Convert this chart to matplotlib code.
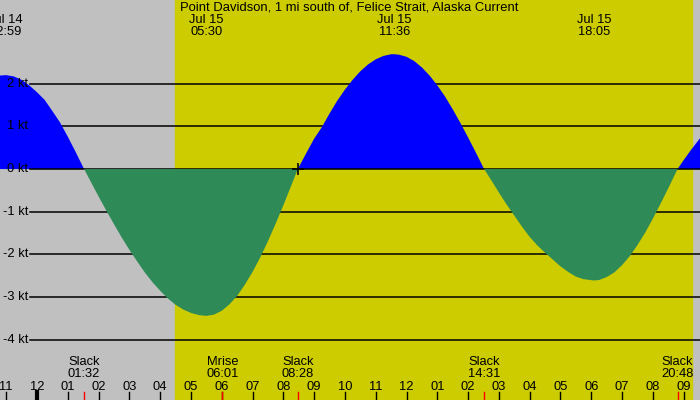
import matplotlib
matplotlib.use('Agg')
import matplotlib.pyplot as plt
import numpy as np

plt.rcParams['font.family'] = ['Liberation Sans', 'DejaVu Sans']

# hours since midnight Jul 15, current speed in knots
hours = [-1.20, -1.00, -0.75, -0.50, -0.25, 0.00, 0.25, 0.50, 0.75, 1.00, 1.25, 1.53,
         1.75, 2.00, 2.25, 2.50, 2.75, 3.00, 3.25, 3.50, 3.75, 4.00, 4.25, 4.50, 4.75, 5.00, 5.25, 5.50,
         5.75, 6.00, 6.25, 6.50, 6.75, 7.00, 7.25, 7.50, 7.75, 8.00, 8.25, 8.47,
         8.75, 9.00, 9.25, 9.50, 9.75, 10.00, 10.25, 10.50, 10.75, 11.00, 11.25, 11.50, 11.60,
         11.75, 12.00, 12.25, 12.50, 12.75, 13.00, 13.25, 13.50, 13.75, 14.00, 14.25, 14.52,
         14.75, 15.00, 15.25, 15.50, 15.75, 16.00, 16.25, 16.50, 16.75, 17.00, 17.25, 17.50, 17.75, 18.08,
         18.25, 18.50, 18.75, 19.00, 19.25, 19.50, 19.75, 20.00, 20.25, 20.50, 20.80,
         21.00, 21.25, 21.53]
speed = [2.19, 2.20, 2.17, 2.09, 1.96, 1.80, 1.62, 1.36, 1.09, 0.76, 0.41, 0.0,
         -0.30, -0.64, -0.97, -1.29, -1.60, -1.89, -2.16, -2.42, -2.65, -2.85, -3.03, -3.18, -3.29, -3.37, -3.42, -3.44,
         -3.41, -3.32, -3.17, -2.97, -2.71, -2.41, -2.07, -1.69, -1.28, -0.85, -0.40, 0.0,
         0.38, 0.71, 0.98, 1.30, 1.60, 1.86, 2.09, 2.29, 2.45, 2.57, 2.65, 2.69, 2.69,
         2.68, 2.63, 2.53, 2.38, 2.19, 1.96, 1.70, 1.40, 1.08, 0.74, 0.39, 0.0,
         -0.26, -0.55, -0.83, -1.09, -1.35, -1.59, -1.79, -1.96, -2.12, -2.28, -2.41, -2.52, -2.58, -2.61,
         -2.60, -2.53, -2.42, -2.25, -2.04, -1.78, -1.49, -1.16, -0.81, -0.45, 0.0,
         0.21, 0.46, 0.72]

sunrise = 4.48
sunset = 21.26

# top labels: max / min current times
ext_hours = [-1.02, 5.50, 11.60, 18.08]
ext_labels = ['Jul 14\n22:59', 'Jul 15\n05:30', 'Jul 15\n11:36', 'Jul 15\n18:05']

# bottom labels: slack / moonrise
event_hours = [1.533, 6.017, 8.467, 14.517, 20.80]
event_labels = ['Slack\n01:32', 'Mrise\n06:01', 'Slack\n08:28', 'Slack\n14:31', 'Slack\n20:48']

hour_ticks = list(range(-1, 22))
hour_labels = ['11', '12', '01', '02', '03', '04', '05', '06', '07', '08', '09', '10',
               '11', '12', '01', '02', '03', '04', '05', '06', '07', '08', '09']

kt_levels = [2, 1, 0, -1, -2, -3, -4]

title = 'Point Davidson, 1 mi south of, Felice Strait, Alaska Current'

fig = plt.figure(figsize=(7, 4), dpi=100)
ax = fig.add_axes([0, 0, 1, 1])
ax.set_xlim(-1.20, 21.53)
ax.set_ylim(-5.41, 3.96)
ax.set_axis_off()

ax.axvspan(-5, 30, color='#c0c0c0', zorder=0)
ax.axvspan(sunrise, sunset, color='#cccc00', zorder=0.5)

h = np.array(hours)
s = np.array(speed)
x0 = -1.20 + 30 / 700 * 22.73
for lv in kt_levels:
    if lv == 0:
        continue
    ax.plot([x0, 21.53], [lv, lv], color='black', lw=1.1, zorder=1)
ax.fill_between(h, 0, s, where=s >= 0, interpolate=True, color='#0000ff', lw=0, zorder=2)
ax.plot([x0, 21.53], [0, 0], color='black', lw=1.1, zorder=2.5)
ax.fill_between(h, 0, s, where=s <= 0, interpolate=True, color='#2e8b57', lw=0, zorder=3)

for lv in kt_levels:
    ax.text(x0 - 0.05, lv, '%d kt' % lv, ha='right', va='center', fontsize=9.3, zorder=4)

ax.plot([8.467], [0], marker='+', color='black', ms=9, mew=1.2, zorder=5)

ax.text(4.65, 3.96 - 7.5 / 42.7, title, ha='left', va='center', fontsize=9.4, zorder=5)
for eh, el in zip(ext_hours, ext_labels):
    ax.text(eh, 3.96 - 26 / 42.7, el, ha='center', va='center', fontsize=9.3,
            linespacing=0.95, zorder=5)
for eh, el in zip(event_hours, event_labels):
    ax.text(eh, -5.41 + 32 / 42.7, el, ha='center', va='center', fontsize=9.3,
            linespacing=0.95, zorder=5)

tr = ax.get_xaxis_transform()
for t, lab in zip(hour_ticks, hour_labels):
    ax.text(t, 13.5 / 400, lab, transform=tr, ha='center', va='center', fontsize=9.3, zorder=5)
    ax.plot([t, t], [0, 8 / 400], transform=tr, color='black',
            lw=3 if t == 0 else 1, zorder=5)
for eh in event_hours:
    ax.plot([eh, eh], [0, 8 / 400], transform=tr, color='red', lw=1, zorder=6)

fig.savefig('out.png', dpi=100)
